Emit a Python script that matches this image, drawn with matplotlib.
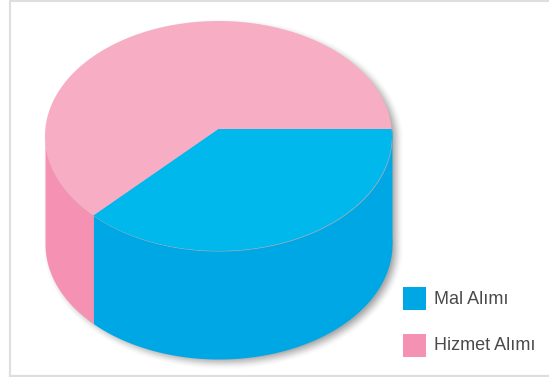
import numpy as np
import matplotlib
matplotlib.use("Agg")
import matplotlib.pyplot as plt
from matplotlib.patches import Rectangle

categories = ["Mal Alımı", "Hizmet Alımı"]
shares = [38.8, 61.2]
top_colors = ["#00B8EC", "#F7AEC4"]
side_colors = ["#00A7E5", "#F592B3"]
legend_colors = ["#00A7E5", "#F592B3"]

W, H = 549, 377
fig = plt.figure(figsize=(W / 100, H / 100), dpi=100, facecolor="white")
ax = fig.add_axes([0, 0, 1, 1])
ax.set_xlim(0, W)
ax.set_ylim(H, 0)
ax.axis("off")

cx, cy, rx, ry, depth = 218.5, 136, 173.5, 115, 108
apex_y = 129
frame = "#DEDEDE"

# frame: open on the right, where the picture is cut off
ax.plot([W, 10.2, 10.2], [1.2, 1.2, 375], color=frame, lw=1.5, zorder=1, solid_joinstyle="miter")
ax.plot([10.2, W], [376, 376], color=frame, lw=1.6, zorder=1)


def px(t):
    return cx + rx * np.cos(t)


def py(t):
    return cy + ry * np.sin(t)


start = np.arcsin((apex_y - cy) / ry)
end = start + np.deg2rad(shares[0] / sum(shares) * 360)

# soft shadow: copies of the body outline, offset to the lower right
t_up = np.linspace(np.pi, 2 * np.pi, 200)
t_dn = np.linspace(0, np.pi, 200)
for e in np.arange(6, -5, -1):
    a = 0.012 + 0.0075 * (6 - e)
    sx = np.r_[cx + (rx + e) * np.cos(t_up), cx + (rx + e) * np.cos(t_dn)] + 5
    sy = np.r_[cy + (ry + e) * np.sin(t_up), cy + depth + (ry + e) * np.sin(t_dn)] + 4
    ax.fill(sx, sy, color="#444444", alpha=a, lw=0, zorder=1.5)

# side of the cylinder
t_blue = np.linspace(start, end, 200)
ax.fill_between(px(t_blue), py(t_blue), py(t_blue) + depth, color=side_colors[0], lw=0, zorder=2)
t_pink = np.linspace(end, np.pi, 80)
ax.fill_between(px(t_pink), py(t_pink), py(t_pink) + depth, color=side_colors[1], lw=0, zorder=2)
ax.fill_between(px(np.linspace(start, 0, 5)), py(np.linspace(start, 0, 5)), cy + depth,
                color=side_colors[0], lw=0, zorder=2)

# top face
t_full = np.linspace(0, 2 * np.pi, 400)
ax.fill(px(t_full), py(t_full), color=top_colors[1], lw=0, zorder=3)
ax.fill(np.r_[cx, px(t_blue)], np.r_[apex_y, py(t_blue)], color=top_colors[0], lw=0, zorder=4)

# legend
for i, (name, col) in enumerate(zip(categories, legend_colors)):
    y0 = 287 + i * 47
    ax.add_patch(Rectangle((403, y0), 23, 23, fc=col, ec="none", zorder=5))
    ax.text(434, y0 + 12, name, family="Liberation Sans", fontsize=13, color="#4A4A4A",
            va="center", ha="left", zorder=5)

fig.savefig("out.png", dpi=100, facecolor="white")
